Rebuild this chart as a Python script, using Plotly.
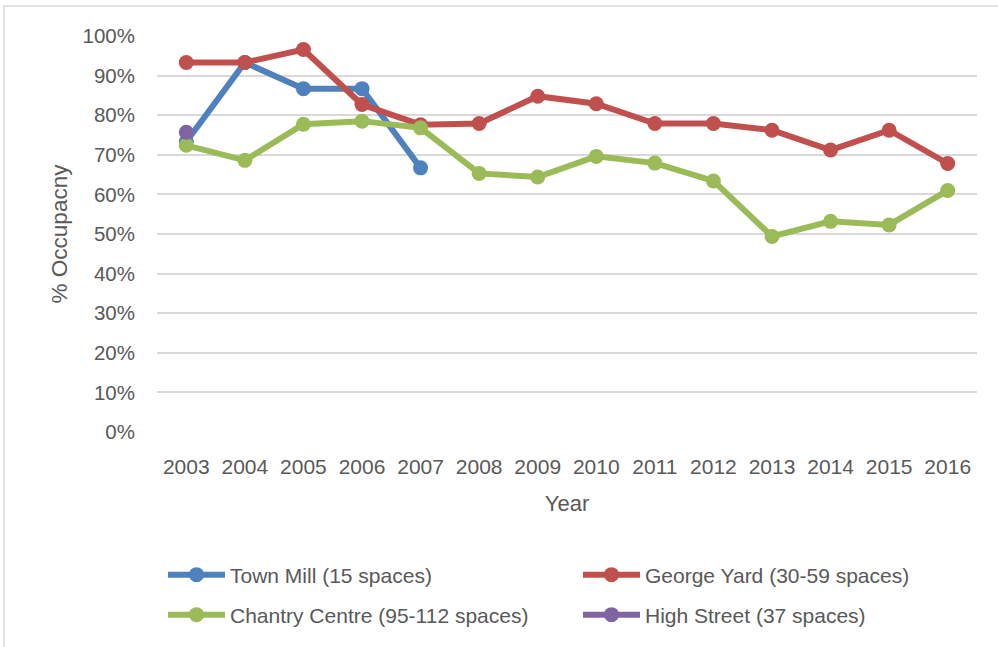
import plotly.graph_objects as go

years = [2003, 2004, 2005, 2006, 2007, 2008, 2009, 2010, 2011, 2012, 2013, 2014, 2015, 2016]
town_mill = [0.733, 0.933, 0.867, 0.867, 0.667]
george_yard = [0.933, 0.933, 0.966, 0.827, 0.776, 0.779, 0.848, 0.829, 0.779, 0.779, 0.762, 0.712, 0.762, 0.678]
chantry = [0.724, 0.686, 0.777, 0.785, 0.768, 0.653, 0.644, 0.696, 0.679, 0.634, 0.494, 0.532, 0.523, 0.610]
high_street = [0.757]

series = [
    ("Town Mill (15 spaces)", years[:len(town_mill)], town_mill, "#4F81BD"),
    ("George Yard (30-59 spaces)", years, george_yard, "#C0504D"),
    ("Chantry Centre (95-112 spaces)", years, chantry, "#9BBB59"),
    ("High Street (37 spaces)", years[:len(high_street)], high_street, "#8064A2"),
]

W, H = 998, 647
L, R, T, B = 157, 21, 36, 215
pw = W - L - R
ph = H - T - B

# legend anchor positions (px): left of symbol, vertical centre of row
legend_pos = [(163, 575), (578, 575), (163, 615), (578, 615)]

FONT = "Liberation Sans, Arial, sans-serif"
fig = go.Figure()
legend_names = ["legend", "legend2", "legend3", "legend4"]
for (name, xs, ys, col), lg in zip(series, legend_names):
    fig.add_trace(go.Scatter(
        x=xs, y=ys, name=name, mode="lines+markers",
        line=dict(color=col, width=6),
        marker=dict(color=col, size=15),
        legend=lg,
    ))

legend_layout = {}
for lg, (px, py) in zip(legend_names, legend_pos):
    legend_layout[lg] = dict(
        xref="container", yref="container",
        x=px / W, xanchor="left",
        y=1 - py / H, yanchor="middle",
        orientation="h", itemwidth=57,
        font=dict(size=21, color="#595959"),
        bgcolor="rgba(0,0,0,0)",
    )

fig.update_layout(
    width=W, height=H,
    margin=dict(l=L, r=R, t=T, b=B, autoexpand=False),
    paper_bgcolor="white", plot_bgcolor="white",
    font=dict(family=FONT, color="#595959", size=21),
    xaxis=dict(
        range=[2002.5, 2016.5], tickmode="array", tickvals=years,
        ticktext=[str(y) for y in years], showgrid=False, zeroline=False,
        showline=False, ticks="", tickfont=dict(size=21), ticklabelstandoff=20,
        title=dict(text="Year", font=dict(size=22), standoff=18),
    ),
    yaxis=dict(
        range=[0, 1], tickmode="array", tickvals=[i / 10 for i in range(11)],
        tickformat=".0%", showgrid=True, gridcolor="#d9d9d9", gridwidth=1.5,
        zeroline=False, showline=False, ticks="", tickfont=dict(size=20.5),
        ticklabelstandoff=21,
        title=dict(text="% Occupacny", font=dict(size=22.5), standoff=8),
    ),
    showlegend=True,
    **legend_layout,
)

# outer chart frame
fig.add_shape(
    type="rect", xref="paper", yref="paper",
    x0=(4 - L) / pw, x1=(1010 - L) / pw,
    y0=(H - B - 660) / ph, y1=(H - B - 6) / ph,
    line=dict(color="#d9d9d9", width=1.5), fillcolor="rgba(0,0,0,0)", layer="below",
)

fig.write_html("out.html")
